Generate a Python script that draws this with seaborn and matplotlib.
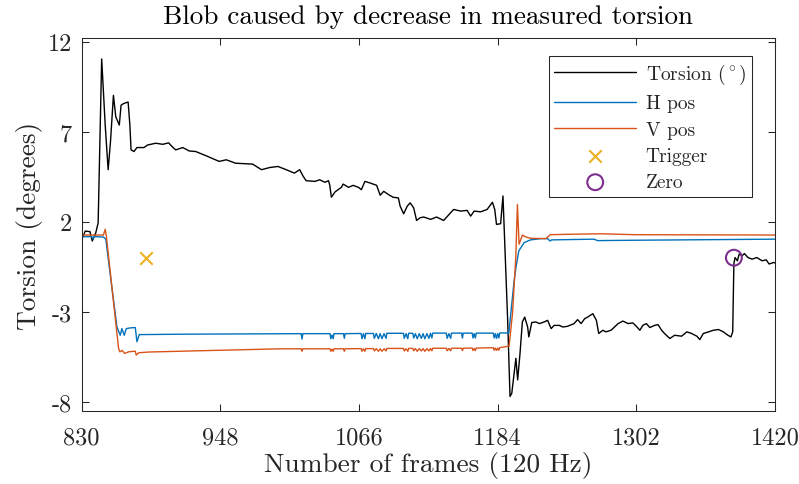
import matplotlib
matplotlib.use("Agg")
import matplotlib.pyplot as plt
import seaborn as sns

# torsion trace (frame, degrees)
torsion_points = [
    (830, 1.0), (833, 1.48), (837, 1.45), (839, 0.93), (842, 1.39), (844, 1.94), (847, 11.04),
    (850, 7.37), (852.5, 4.89), (854.5, 6.45), (857, 9.02), (859, 7.83), (862, 7.37),
    (863.5, 8.47), (865.5, 8.56), (869.5, 8.65), (871, 7.37), (872, 5.99), (874.5, 5.9),
    (877, 6.12), (883, 6.12), (886, 6.26), (893, 6.36), (899, 6.3), (904, 6.38), (907, 6.17),
    (910, 5.99), (916, 6.12), (921.5, 5.93), (927, 5.9), (936, 5.66), (947, 5.35), (953, 5.44),
    (961, 5.25), (975.5, 5.2), (983, 4.89), (990, 5.01), (997, 5.07), (1004, 4.89), (1011, 4.7),
    (1015.5, 4.89), (1018.5, 4.52), (1021, 4.28), (1028.5, 4.24), (1032.5, 4.33), (1037, 4.19),
    (1040, 4.28), (1041, 4.06), (1042.5, 3.36), (1045.5, 3.65), (1051, 3.91), (1052.5, 4.09),
    (1057, 3.91), (1061, 4.02), (1065.5, 3.91), (1068, 3.78), (1071, 4.24), (1075.5, 4.15),
    (1081, 4.02), (1084, 3.47), (1087, 3.69), (1091, 3.51), (1095, 3.36), (1099.5, 3.32),
    (1101, 2.86), (1104, 2.44), (1107, 2.86), (1109.5, 3.05), (1112.5, 2.77), (1115, 2.07),
    (1118, 2.22), (1121, 2.26), (1127, 2.13), (1132, 2.26), (1138, 2.07), (1144, 2.5),
    (1146.5, 2.68), (1152.5, 2.59), (1158, 2.63), (1161, 2.31), (1164, 2.59), (1169.5, 2.55),
    (1175, 2.68), (1179.5, 3.08), (1181.5, 2.68), (1183, 1.85), (1186.5, 1.89), (1188.5, 3.43),
    (1192.5, -3.48), (1194.5, -7.71), (1196, -7.53), (1199.5, -5.59), (1201, -6.79),
    (1203, -5.32), (1205, -3.57), (1207, -3.3), (1209.5, -3.85), (1210.5, -4.4), (1213, -3.6),
    (1216.5, -3.57), (1219.5, -3.66), (1223.5, -3.57), (1226.5, -3.48), (1229.5, -3.94),
    (1232, -3.76), (1236.5, -3.76), (1239.5, -3.85), (1243.5, -3.81), (1249, -3.66),
    (1252, -3.44), (1255, -3.66), (1258, -3.39), (1260.5, -3.3), (1265, -3.11), (1268, -3.48),
    (1270, -4.21), (1273.5, -4.03), (1276, -4.12), (1280.5, -4.03), (1286.5, -3.66),
    (1290.5, -3.52), (1295, -3.66), (1299, -3.62), (1302, -3.81), (1305, -4.03),
    (1307.5, -3.76), (1310.5, -3.66), (1313.5, -3.88), (1317.5, -3.76), (1320.5, -3.72),
    (1323.5, -4.03), (1326, -4.21), (1330.5, -4.49), (1334.5, -4.31), (1340.5, -4.36),
    (1345, -4.12), (1349, -4.21), (1353.5, -4.36), (1356, -4.55), (1359, -4.21),
    (1363.5, -4.12), (1367.5, -4.03), (1372, -3.99), (1376, -4.12), (1380, -4.31),
    (1382.5, -4.4), (1384, -4.12), (1385, -0.35), (1386, 0.01), (1388, -0.17), (1389.5, 0.2),
    (1392, 0.11), (1394, 0.23), (1397, 0.01), (1400.5, -0.08), (1404.5, 0.01), (1409, -0.17),
    (1412.5, -0.12), (1415, -0.35), (1419, -0.26), (1420, -0.3),
]

# horizontal eye position
h_points = [
    (830, 1.17), (838.5, 1.17), (839.5, 1.05), (840.5, 1.17), (848.5, 1.15), (850.5, 1.03),
    (855, -1.3), (860, -3.85), (862.8, -4.31), (864.2, -3.94), (866.2, -4.31), (867.9, -3.94),
    (871.3, -3.9), (875.6, -3.88), (877, -4.67), (879, -4.27), (883, -4.27), (915, -4.25),
    (1016.8, -4.22), (1017.5, -4.52), (1018.2, -4.22),
    (1041.3, -4.22), (1042, -4.5), (1043, -4.3), (1044, -4.5), (1044.7, -4.22),
    (1052.8, -4.22), (1053.5, -4.48), (1054.2, -4.22),
    (1067.8, -4.21), (1068.5, -4.5), (1069.8, -4.22), (1071, -4.5), (1071.7, -4.21),
    (1078.3, -4.21), (1079, -4.48), (1080.7, -4.21), (1082.5, -4.5), (1084, -4.22),
    (1085.5, -4.5), (1087.3, -4.22), (1089, -4.48), (1089.7, -4.2),
    (1103.8, -4.2), (1104.5, -4.48), (1106, -4.22), (1107.5, -4.5), (1108.2, -4.2),
    (1111.8, -4.2), (1112.5, -4.46), (1114, -4.22), (1115.5, -4.5), (1117.3, -4.22),
    (1119, -4.48), (1120.5, -4.22), (1122, -4.5), (1123.8, -4.22), (1125.5, -4.48),
    (1126.8, -4.2), (1128, -4.46), (1128.7, -4.19),
    (1140.3, -4.19), (1141, -4.48), (1142.5, -4.22), (1144, -4.48), (1144.7, -4.19),
    (1153.3, -4.19), (1154, -4.46), (1154.7, -4.19),
    (1162.3, -4.19), (1163, -4.46), (1164, -4.22), (1165, -4.46), (1165.7, -4.19),
    (1180.3, -4.19), (1181, -4.46), (1182, -4.22), (1183, -4.48), (1184, -4.22),
    (1185, -4.46), (1185.7, -4.18),
    (1193.5, -4.18), (1198, -1.27), (1200, -0.35), (1202, 0.38), (1206.5, 0.84), (1212, 0.99),
    (1221, 1.06), (1226.5, 1.06), (1228.5, 0.93), (1230, 0.99), (1266, 1.03), (1269, 0.95),
    (1300, 0.97), (1420, 1.03),
]

# vertical eye position
v_points = [
    (830, 1.26), (848.5, 1.26), (850, 1.58), (851, 1.2), (855.7, -1.64), (861.4, -5.04),
    (862.5, -5.23), (864.5, -5.15), (866.5, -5.32), (869.9, -5.23), (875.6, -5.19),
    (876.4, -5.41), (878.5, -5.28), (887, -5.24), (930, -5.17), (1000, -5.06),
    (1016.8, -5.06), (1017.5, -5.2), (1018.2, -5.06),
    (1041.3, -5.06), (1042, -5.2), (1043, -5.08), (1044, -5.2), (1044.7, -5.06),
    (1052.8, -5.06), (1053.5, -5.2), (1054.2, -5.06),
    (1067.8, -5.05), (1068.5, -5.2), (1069.8, -5.06), (1071, -5.2), (1071.7, -5.05),
    (1078.3, -5.05), (1079, -5.18), (1080.7, -5.05), (1082.5, -5.2), (1084, -5.06),
    (1085.5, -5.2), (1087.3, -5.06), (1089, -5.18), (1089.7, -5.04),
    (1103.8, -5.04), (1104.5, -5.18), (1106, -5.06), (1107.5, -5.2), (1108.2, -5.04),
    (1111.8, -5.04), (1112.5, -5.17), (1114, -5.05), (1115.5, -5.2), (1117.3, -5.05),
    (1119, -5.18), (1120.5, -5.05), (1122, -5.2), (1123.8, -5.05), (1125.5, -5.18),
    (1126.8, -5.04), (1128, -5.17), (1128.7, -5.03),
    (1140.3, -5.03), (1141, -5.17), (1142.5, -5.04), (1144, -5.17), (1144.7, -5.03),
    (1153.3, -5.03), (1154, -5.16), (1154.7, -5.03),
    (1162.3, -5.02), (1163, -5.16), (1164, -5.04), (1165, -5.16), (1165.7, -5.02),
    (1180.3, -5.0), (1181, -5.14), (1182, -5.02), (1183, -5.15), (1184, -5.02),
    (1185, -5.14), (1185.7, -5.0),
    (1193.7, -4.91), (1196.6, -3.11), (1199.4, 0.01), (1200.8, 2.96), (1202.2, 0.75),
    (1205.1, 1.26), (1208, 1.15), (1212, 1.08), (1225, 1.06), (1228.7, 1.28), (1243.6, 1.3),
    (1272, 1.33), (1300, 1.28), (1420, 1.26),
]

torsion_frames, torsion_vals = map(list, zip(*torsion_points))
h_frames, h_vals = map(list, zip(*h_points))
v_frames, v_vals = map(list, zip(*v_points))

trigger_frame = [885]
trigger_val = [0.0]
zero_frame = [1385]
zero_val = [0.0]

x_ticks = [830, 948, 1066, 1184, 1302, 1420]
y_ticks = [-8, -3, 2, 7, 12]

sns.set_style("ticks")
plt.rcParams['font.family'] = ['cmr10', 'DejaVu Serif']
plt.rcParams['mathtext.fontset'] = 'cm'
plt.rcParams['axes.unicode_minus'] = False
plt.rcParams['axes.formatter.use_mathtext'] = False  # keep the short hyphen like the original

gray = '#262626'
fig, ax = plt.subplots(figsize=(7.99, 4.85), dpi=100)
fig.subplots_adjust(left=81.7 / 799, right=775 / 799, top=1 - 39.3 / 485, bottom=1 - 411.7 / 485)

sns.lineplot(x=torsion_frames, y=torsion_vals, ax=ax, color='black', lw=1.0,
             label=r'Torsion ($^\circ$)', errorbar=None)
sns.lineplot(x=h_frames, y=h_vals, ax=ax, color='#0072BD', lw=1.0, label='H pos', errorbar=None)
sns.lineplot(x=v_frames, y=v_vals, ax=ax, color='#D95319', lw=1.0, label='V pos', errorbar=None)
sns.scatterplot(x=trigger_frame, y=trigger_val, ax=ax, marker='x', color='#EDB120', s=80,
                linewidth=1.5, label='Trigger', zorder=5)
sns.scatterplot(x=zero_frame, y=zero_val, ax=ax, marker='o', facecolor='none',
                edgecolor='#7E2F8E', s=130, linewidth=1.5, label='Zero', zorder=5)

ax.set_xlim(830, 1420)
ax.set_ylim(-8.5, 12.19)
ax.set_xticks(x_ticks)
ax.set_yticks(y_ticks)
ax.tick_params(direction='in', top=True, right=True, length=5, width=0.75,
               labelsize=17.5, colors=gray, labelcolor=gray)
ax.tick_params(axis='x', pad=11)
ax.tick_params(axis='y', pad=7)
for sp in ax.spines.values():
    sp.set_color(gray)
    sp.set_linewidth(0.75)

ax.set_title('Blob caused by decrease in measured torsion', fontsize=19.5, color='black', pad=11)
ax.set_xlabel('Number of frames (120 Hz)', fontsize=19.7, color=gray, labelpad=2)
ax.set_ylabel('Torsion (degrees)', fontsize=19.7, color=gray, labelpad=3)

leg = ax.legend(loc='upper right', bbox_to_anchor=((752 - 81.7) / 693.3, 1 - (57 - 39.3) / 372.4),
                borderaxespad=0, fontsize=14, frameon=True, fancybox=False, framealpha=1,
                edgecolor=gray, handlelength=4.2, labelspacing=0.43, borderpad=0.3,
                handletextpad=0.5)
leg.get_frame().set_linewidth(0.75)

fig.savefig('out.png', dpi=100)
